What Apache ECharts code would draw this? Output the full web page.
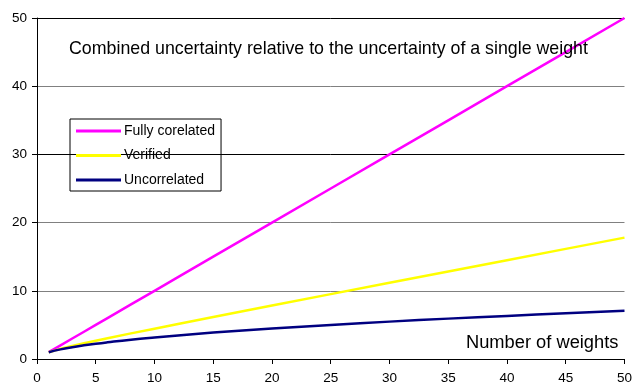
<!DOCTYPE html>
<html>
<head>
<meta charset="utf-8">
<script src="https://cdn.jsdelivr.net/npm/echarts@6/dist/echarts.min.js"></script>
<style>
  html, body { margin: 0; padding: 0; background: #fff; }
  #chart { width: 635px; height: 385px; }
</style>
</head>
<body>
<div id="chart"></div>
<script>
const weights = [1, 2, 3, 4, 5, 6, 8, 10, 12, 15, 20, 25, 30, 35, 40, 45, 50]
const fullyCorelated = [1, 2, 3, 4, 5, 6, 8, 10, 12, 15, 20, 25, 30, 35, 40, 45, 50]
const verified = [1, 1.49, 1.91, 2.3, 2.68, 3.04, 3.76, 4.45, 5.14, 6.16, 7.84, 9.51, 11.17, 12.83, 14.49, 16.15, 17.8]
const uncorrelated = [1, 1.41, 1.73, 2, 2.24, 2.45, 2.83, 3.16, 3.46, 3.87, 4.47, 5, 5.48, 5.92, 6.32, 6.71, 7.07]

const pairs = (ys) => weights.map((x, i) => [x, ys[i]])
const font = 'Liberation Sans, Arial, sans-serif'

const chart = echarts.init(document.getElementById('chart'))

const option = {
  animation: false,
  textStyle: { fontFamily: font },
  grid: { left: 37, right: 8, top: 18, bottom: 25 },
  title: [
    {
      text: 'Combined uncertainty relative to the uncertainty of a single weight',
      left: 64, top: 35,
      textStyle: { fontFamily: font, fontSize: 17.8, fontWeight: 'normal', color: '#000' },
    },
    {
      text: 'Number of weights',
      left: 461, top: 329,
      textStyle: { fontFamily: font, fontSize: 18.3, fontWeight: 'normal', color: '#000' },
    },
  ],
  legend: {
    orient: 'vertical',
    left: 70, top: 119,
    padding: [5, 6, 4, 6],
    itemGap: 10.5,
    itemWidth: 45,
    itemHeight: 3,
    icon: 'rect',
    borderColor: '#000',
    borderWidth: 1,
    textStyle: { fontFamily: font, fontSize: 14, color: '#000', padding: [0, 0, 0, -2] },
    data: ['Fully corelated', 'Verified', 'Uncorrelated'],
  },
  xAxis: {
    type: 'value',
    min: 0, max: 50, interval: 5,
    axisLine: { lineStyle: { color: '#000', width: 1 } },
    axisTick: { show: true, length: 5, lineStyle: { color: '#000' } },
    axisLabel: { fontFamily: font, fontSize: 13.5, color: '#000', margin: 12 },
    splitLine: { show: false },
  },
  yAxis: {
    type: 'value',
    min: 0, max: 50, interval: 10,
    axisLine: { show: true, lineStyle: { color: '#000', width: 1 } },
    axisTick: { show: true, length: 5, lineStyle: { color: '#000' } },
    axisLabel: { fontFamily: font, fontSize: 13.5, color: '#000', margin: 10 },
    splitLine: {
      show: true,
      lineStyle: { color: ['#000', '#808080', '#808080', '#000', '#808080', '#000'], width: 1 },
    },
  },
  series: [
    {
      name: 'Fully corelated', type: 'line', data: pairs(fullyCorelated),
      showSymbol: false, lineStyle: { color: '#ff00ff', width: 2.5 }, itemStyle: { color: '#ff00ff' },
    },
    {
      name: 'Verified', type: 'line', data: pairs(verified),
      showSymbol: false, lineStyle: { color: '#ffff00', width: 2.5 }, itemStyle: { color: '#ffff00' },
    },
    {
      name: 'Uncorrelated', type: 'line', data: pairs(uncorrelated), smooth: true,
      showSymbol: false, lineStyle: { color: '#000080', width: 2.5 }, itemStyle: { color: '#000080' },
    },
  ],
}

chart.setOption(option)
</script>
</body>
</html>
